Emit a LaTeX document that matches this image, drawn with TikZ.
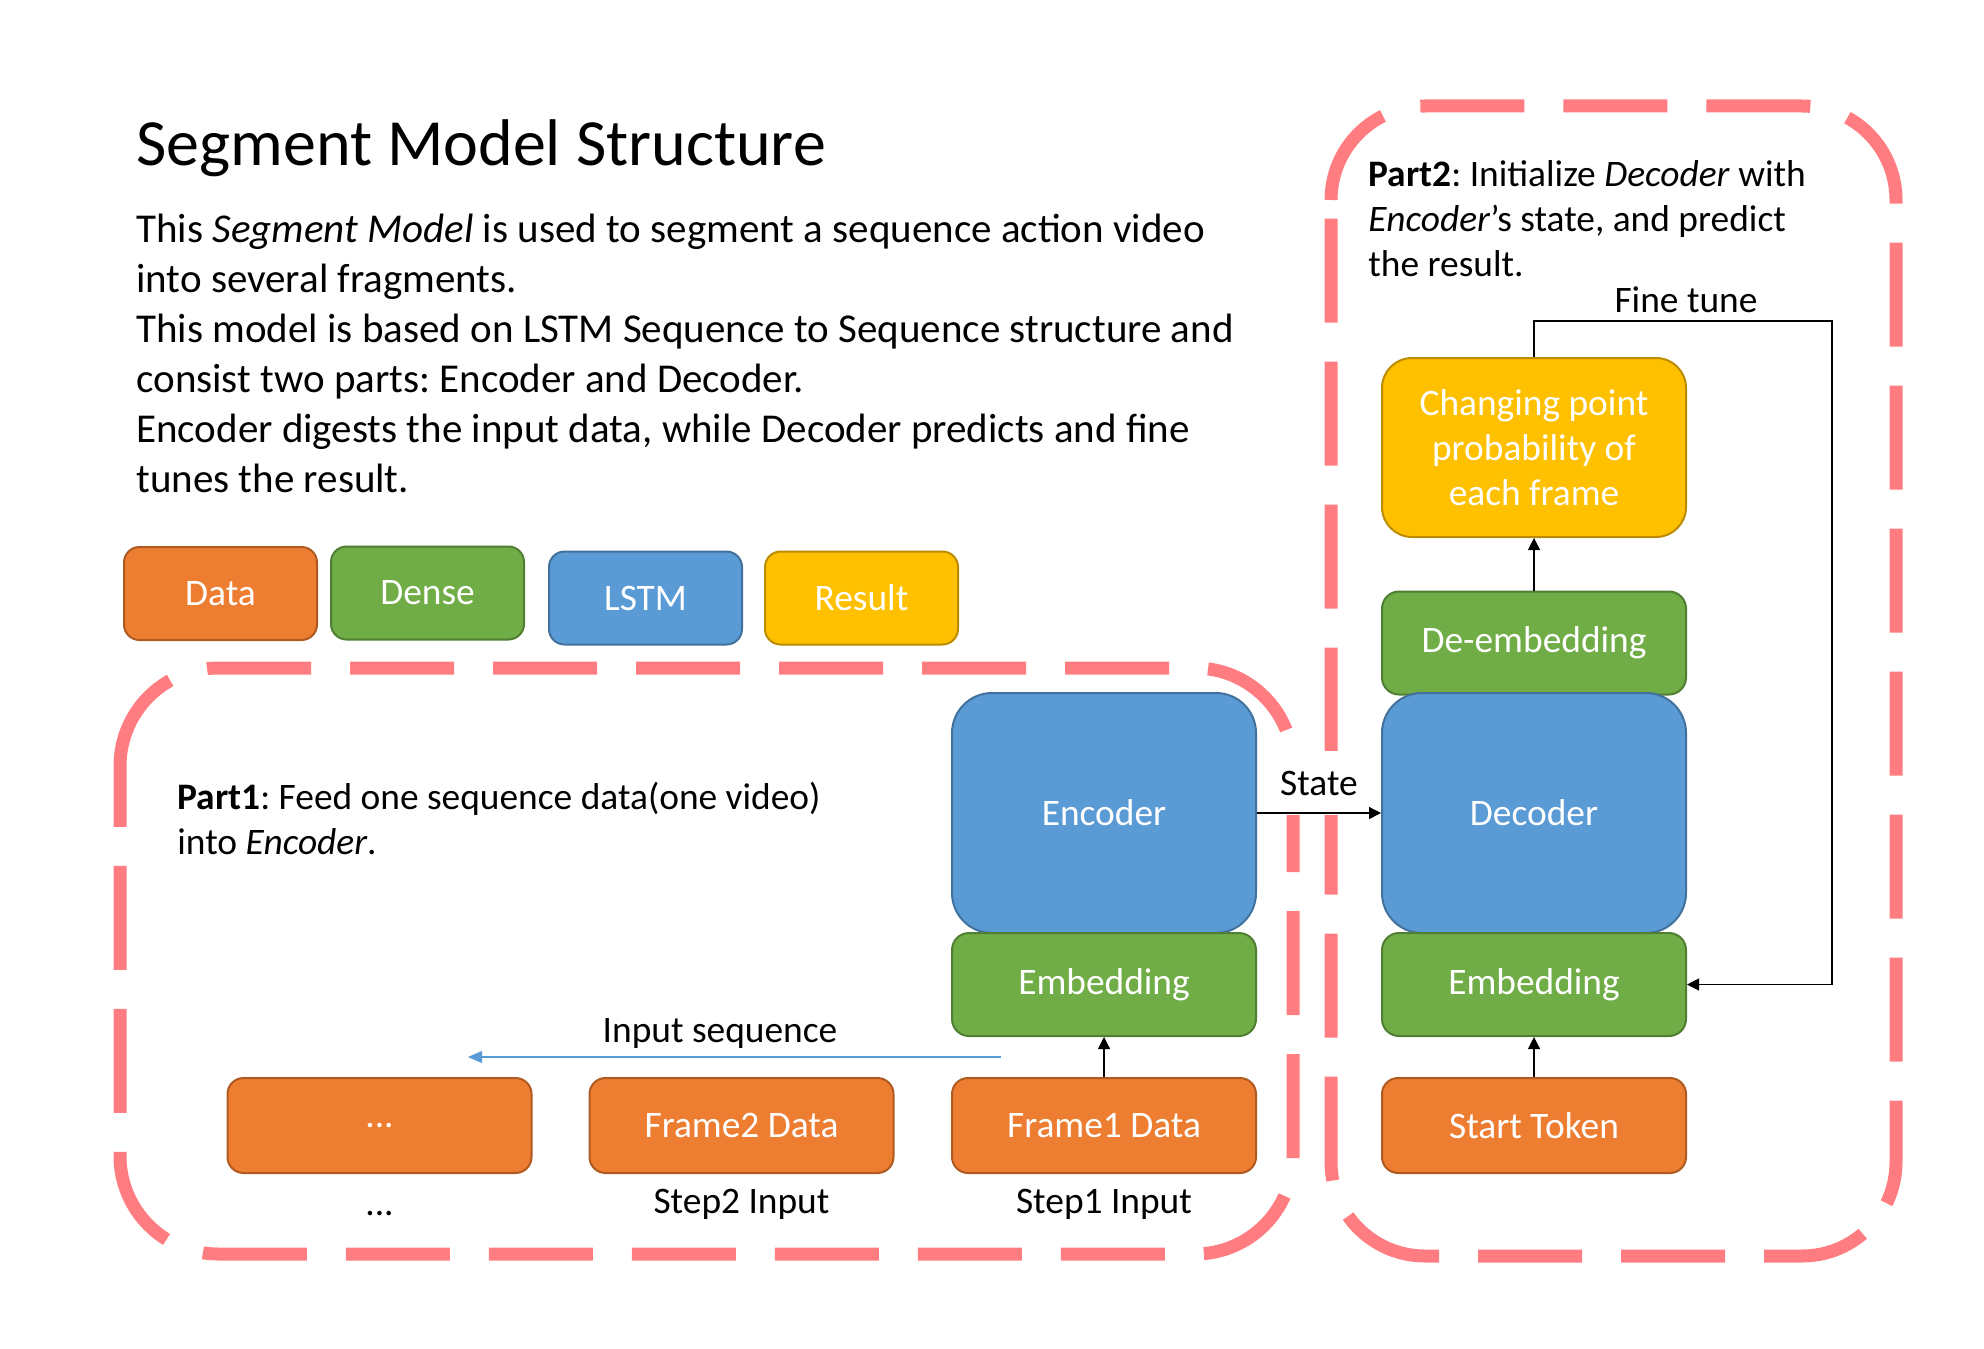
\documentclass[tikz,border=0pt]{standalone}
\usepackage{fontspec}
\setmainfont{Carlito}
\usetikzlibrary{arrows.meta}
\definecolor{dataC}{HTML}{ED7D31}
\definecolor{dataB}{HTML}{AE5A21}
\definecolor{denseC}{HTML}{70AD47}
\definecolor{denseB}{HTML}{507E32}
\definecolor{lstmC}{HTML}{5B9BD5}
\definecolor{lstmB}{HTML}{41719C}
\definecolor{resC}{HTML}{FFC000}
\definecolor{resB}{HTML}{BC8C00}
\definecolor{partC}{HTML}{FF7C80}
\newcommand{\boxfont}{\fontsize{18.7}{22.5}\selectfont}
\newcommand{\bodyfont}{\fontsize{20.5}{25}\selectfont}
\frenchspacing

\begin{document}
\begin{tikzpicture}[x=0.5pt,y=-0.5pt,
    blk/.style={draw, line width=1pt, text=white, font=\boxfont, align=center, inner sep=0pt, minimum width=152pt},
    data/.style={blk, fill=dataC, draw=dataB, rounded corners=8pt, minimum height=47.5pt},
    dense/.style={blk, fill=denseC, draw=denseB, rounded corners=8.5pt, minimum height=51.5pt},
    lstm/.style={blk, fill=lstmC, draw=lstmB, rounded corners=20pt, minimum height=120pt},
    result/.style={blk, fill=resC, draw=resB, rounded corners=15pt, minimum height=89.5pt},
    legend/.style={minimum width=96.5pt, minimum height=46.5pt, rounded corners=7.75pt},
    lbl/.style={font=\boxfont, anchor=base, inner sep=0pt},
    conn/.style={line width=0.6pt, -{Triangle[length=6pt,width=6pt]}},
    part/.style={draw=partC, line width=6.5pt, dash pattern=on 52pt off 19.5pt}]
    \useasboundingbox (0,0) rectangle (1984,1348);

    % multi-line nodes sit on the baseline of their last line
    \node[anchor=base west, inner sep=0pt, font=\fontsize{33}{40}\selectfont] (title) at (136,166) {Segment Model Structure};
    \node[anchor=base west, inner sep=0pt, align=left, font=\bodyfont] (intro) at (136,492)
        {This \textit{Segment Model} is used to segment a sequence action video\\
         into several fragments.\\
         This model is based on LSTM Sequence to Sequence structure and\\
         consist two parts: Encoder and Decoder.\\
         Encoder digests the input data, while Decoder predicts and fine\\
         tunes the result.};

    \node[data, legend] (legData) at (220.5,593.5) {Data};
    \node[dense, legend] (legDense) at (427.5,593) {Dense};
    \node[lstm, legend] (legLSTM) at (645.5,598) {LSTM};
    \node[result, legend] (legResult) at (861.5,598) {Result};

    % the two parts
    \draw[part] (120,766) arc[start angle=180, end angle=90, radius=49pt] -- (1195,668)
        arc[start angle=90, end angle=0, radius=49pt] -- (1293,1156)
        arc[start angle=0, end angle=-90, radius=49pt] -- (218,1254)
        arc[start angle=-90, end angle=-180, radius=49pt] -- cycle;
    \draw[part] (1331,200) arc[start angle=180, end angle=90, radius=47pt] -- (1802,106)
        arc[start angle=90, end angle=0, radius=47pt] -- (1896,1162)
        arc[start angle=0, end angle=-90, radius=47pt] -- (1425,1256)
        arc[start angle=-90, end angle=-180, radius=47pt] -- cycle;

    \node[anchor=base west, inner sep=0pt, align=left, font=\boxfont] (part1) at (177,854)
        {\textbf{Part1}: Feed one sequence data(one video)\\ into \textit{Encoder}.};
    \node[anchor=base west, inner sep=0pt, align=left, font=\boxfont] (part2) at (1368,277)
        {\textbf{Part2}: Initialize \textit{Decoder} with\\ \textit{Encoder}'s state, and predict\\ the result.};

    % encoder side
    \node[lstm] (enc) at (1104,813) {Encoder};
    \node[dense] (encEmb) at (1104,984.5) {Embedding};
    \node[data] (frame1) at (1104,1125.5) {Frame1 Data};
    \node[data] (frame2) at (741.5,1125.5) {Frame2 Data};
    \node[data] (frameN) at (379.5,1125.5) {...};
    \node[lbl] (step1) at (1104,1213) {Step1 Input};
    \node[lbl] (step2) at (741.5,1213) {Step2 Input};
    \node[lbl] (stepN) at (379.5,1215) {...};

    \coordinate (seqR) at (1001,1057);
    \coordinate (seqL) at (468,1057);
    \node[lbl] (seqLabel) at (720,1042) {Input sequence};
    \draw[line width=0.6pt, draw=lstmC, -{Triangle[length=7pt,width=6pt]}] (seqR) -- (seqL);
    \draw[conn] (frame1) -- (encEmb);

    % decoder side
    \node[result, minimum height=89.5pt] (prob) at (1534,447.5) {Changing point\\ probability of\\ each frame};
    \node[dense] (deemb) at (1534,643) {De-embedding};
    \node[lstm] (dec) at (1534,813) {Decoder};
    \node[dense] (decEmb) at (1534,984.5) {Embedding};
    \node[data] (start) at (1534,1125.5) {Start Token};

    \node[lbl, fill=white, inner xsep=4pt, inner ysep=10pt] (state) at (1319,795) {State};
    \draw[conn] (enc) -- (dec);
    \draw[conn] (start) -- (decEmb);
    \draw[conn] (deemb) -- (prob);

    \coordinate (tuneCorner) at (1832,321);
    \node[lbl] (tune) at (1686,312) {Fine tune};
    \draw[conn] (prob.north) |- (tuneCorner) |- (decEmb.east);

\end{tikzpicture}
\end{document}
